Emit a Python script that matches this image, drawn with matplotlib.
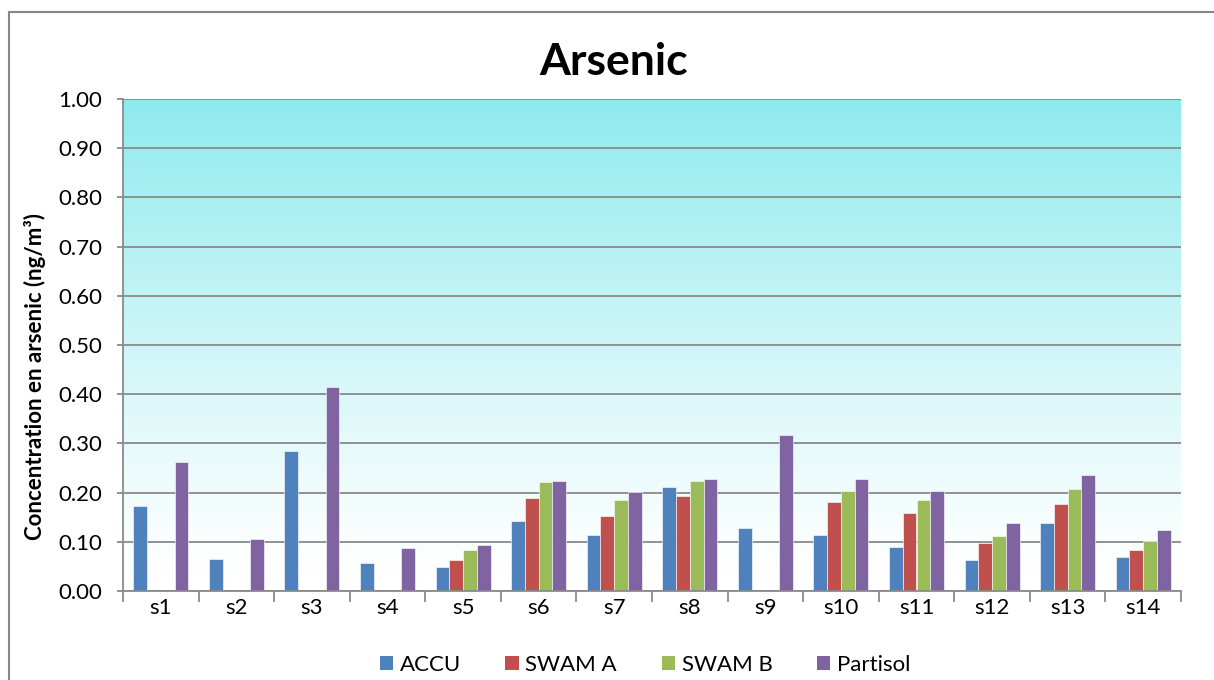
import numpy as np
import matplotlib
matplotlib.use("Agg")
import matplotlib.pyplot as plt
from matplotlib.lines import Line2D
from matplotlib.patches import Patch

plt.rcParams['font.family'] = ['Lato', 'DejaVu Sans']

sites = ["s1", "s2", "s3", "s4", "s5", "s6", "s7", "s8", "s9", "s10", "s11", "s12", "s13", "s14"]
nan = np.nan
accu     = [0.172, 0.066, 0.285, 0.056, 0.048, 0.143, 0.114, 0.212, 0.129, 0.114, 0.089, 0.063, 0.139, 0.070]
swam_a   = [nan,   nan,   nan,   nan,   0.062, 0.190, 0.152, 0.194, nan,   0.181, 0.158, 0.098, 0.176, 0.083]
swam_b   = [nan,   nan,   nan,   nan,   0.083, 0.221, 0.185, 0.224, nan,   0.203, 0.185, 0.111, 0.207, 0.101]
partisol = [0.262, 0.105, 0.415, 0.088, 0.093, 0.224, 0.202, 0.228, 0.317, 0.228, 0.203, 0.138, 0.236, 0.124]

series = ["ACCU", "SWAM A", "SWAM B", "Partisol"]
colors = ["#4F81BD", "#C0504D", "#9BBB59", "#8064A2"]
values = [accu, swam_a, swam_b, partisol]

fig = plt.figure(figsize=(12.14, 6.8), dpi=100)
ax = fig.add_axes([123 / 1214, 1 - 591 / 680, (1181 - 123) / 1214, (591 - 99) / 680])

n = len(sites)
x = np.arange(n)
bw = 1 / 5.5
ax.set_xlim(-0.5, n - 0.5)
ax.set_ylim(0, 1.0)

# vertical gradient background: cyan at top fading to white near the bottom
top = np.array([0.557, 0.918, 0.933])
bot = np.array([1.0, 1.0, 1.0])
t = np.linspace(0, 1, 256)
t = np.clip((t - 0.04) / 0.96, 0, 1) ** 1.15
grad = bot + (top - bot) * t[:, None]
img = np.repeat(grad[:, None, :], 2, axis=1)
ax.imshow(img, extent=[-0.5, n - 0.5, 0, 1.0], origin="lower", aspect="auto", zorder=0)

for i, (vals, c, name) in enumerate(zip(values, colors, series)):
    pos = x + (i - 1.5) * bw
    v = np.array(vals, dtype=float)
    m = ~np.isnan(v)
    ax.bar(pos[m], v[m], width=bw, color=c, edgecolor=(1, 1, 1, 0.6), linewidth=0.7,
           zorder=3, label=name)

grid_c = "#8A8A8A"
ax.set_yticks(np.arange(0, 1.01, 0.1))
ax.set_yticklabels([f"{v:.2f}" for v in np.arange(0, 1.01, 0.1)], fontsize=16)
ax.yaxis.grid(True, color=grid_c, linewidth=1.3, zorder=1)
for gl in ax.get_ygridlines():
    gl.set_zorder(1)

ax.set_xticks(x)
ax.set_xticklabels(sites, fontsize=16)
ax.set_xticks(np.arange(-0.5, n, 1.0), minor=True)
ax.tick_params(axis="x", which="major", length=0, pad=5)
ax.tick_params(axis="x", which="minor", length=8, width=1.3, color=grid_c)
ax.tick_params(axis="y", length=4, width=1.3, color=grid_c, pad=11)

for s in ["top", "right"]:
    ax.spines[s].set_visible(False)
for s in ["left", "bottom"]:
    ax.spines[s].set_color(grid_c)
    ax.spines[s].set_linewidth(1.3)
    ax.spines[s].set_zorder(4)

fig.text(35 / 1214, 1 - 377 / 680, "Concentration en arsenic (ng/m³)", rotation=90,
         ha="center", va="center", fontsize=16, fontweight="bold")

fig.text(614 / 1214, 1 - 62 / 680, "Arsenic", ha="center", va="center",
         fontsize=32, fontweight="bold")

handles = [Patch(facecolor=c, edgecolor="none") for c in colors]
fig.legend(handles, series, loc="center", bbox_to_anchor=(645 / 1214, 1 - 665 / 680),
           ncol=4, frameon=False, fontsize=16, handlelength=0.6, handleheight=0.6,
           handletextpad=0.3, columnspacing=2.0)

# chart frame
fig.add_artist(Line2D([9 / 1214, 9 / 1214], [0, 1 - 12 / 680], transform=fig.transFigure,
                      color="#868686", linewidth=1.5))
fig.add_artist(Line2D([9 / 1214, 1], [1 - 12 / 680, 1 - 12 / 680], transform=fig.transFigure,
                      color="#868686", linewidth=1.5))

fig.savefig("out.png", dpi=100)
